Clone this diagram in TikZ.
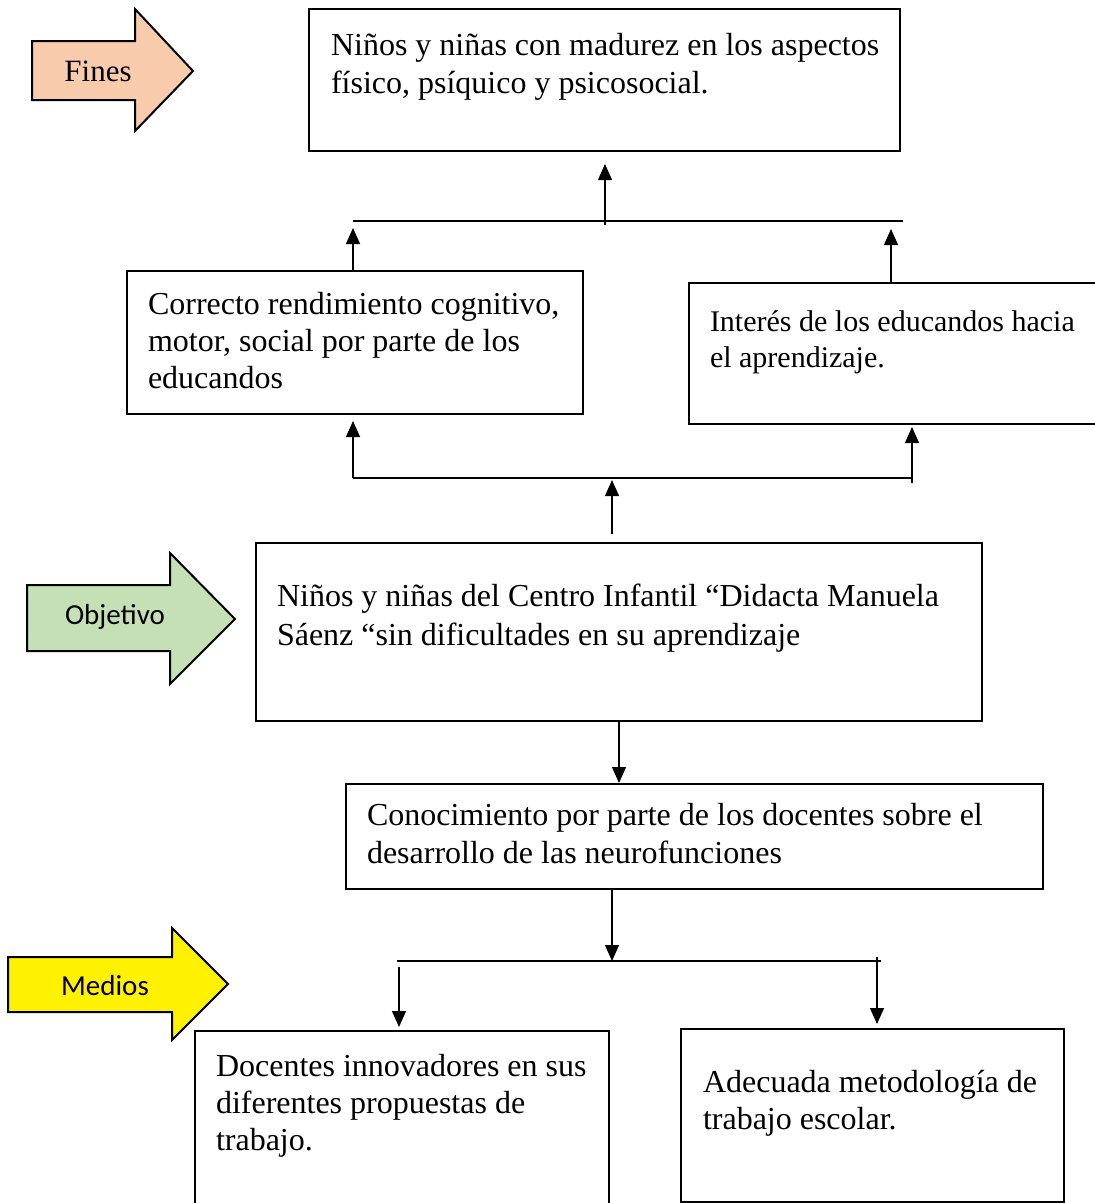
\documentclass[tikz,border=0pt]{standalone}
\usepackage{fontspec}
\setmainfont{Liberation Serif}
\newfontfamily\calibrifont{Carlito}
\usetikzlibrary{arrows.meta}
\usetikzlibrary{calc}

% text block inside a panel: width, height, left pad, first baseline, baselineskip, text
\newcommand{\paneltext}[6]{\parbox[t][#2pt][t]{#1pt}{\fontsize{32}{#5}\selectfont\leftskip=#3pt\parindent=0pt\rule{0pt}{#4pt}#6}}

\tikzset{
  panel/.style={draw=black, line width=2pt, anchor=north west, inner sep=0pt, align=left},
  link/.style={draw=black, line width=1.3pt},
  linkarrow/.style={link, -{Triangle[length=16pt,width=14pt]}},
  blockarrow/.style={draw=black, line width=2pt, line join=miter},
}

\begin{document}
\begin{tikzpicture}[x=1pt, y=-1pt]

\clip (0,0) rectangle (1095,1203);

% block arrows on the left
\draw[blockarrow, fill={rgb,255:red,248;green,203;blue,173}] (32,41) -- (135,41) -- (135,9) -- (193,71) -- (135,131) -- (135,100) -- (32,100) -- cycle;
\node (fines) at (98,71) {\fontsize{31}{36}\selectfont Fines};

\draw[blockarrow, fill={rgb,255:red,197;green,224;blue,180}] (27,585) -- (170,585) -- (170,553) -- (235,619) -- (170,684) -- (170,651) -- (27,651) -- cycle;
\node (objetivo) at (115,617) {\calibrifont\fontsize{29}{34}\selectfont Objetivo};

\draw[blockarrow, fill=yellow] (8,957) -- (172,957) -- (172,928) -- (228,984) -- (172,1040) -- (172,1012) -- (8,1012) -- cycle;
\node (medios) at (105,986) {\calibrifont\fontsize{29}{34}\selectfont Medios};

% panels
\node[panel] (finbox) at (308,8) {\paneltext{591}{142}{22}{46}{38}{Niños y niñas con madurez en los aspectos\\físico, psíquico y psicosocial.}};

\node[panel] (rendimiento) at (126,270) {\paneltext{456}{143}{21}{43}{37}{Correcto rendimiento cognitivo,\\motor, social por parte de los\\educandos}};

\node[panel] (interes) at (688,282) {\paneltext{430}{141}{21}{48}{36}{\fontsize{30}{36}\selectfont Interés de los educandos hacia\\el aprendizaje.}};

\node[panel] (objbox) at (255,542) {\paneltext{726}{178}{21}{63}{39}{Niños y niñas del Centro Infantil “Didacta Manuela\\Sáenz “sin dificultades en su aprendizaje}};

\node[panel] (conocimiento) at (345,783) {\paneltext{697}{105}{21}{41}{38}{Conocimiento por parte de los docentes sobre el\\desarrollo de las neurofunciones}};

\node[panel] (docentes) at (194,1030) {\paneltext{414}{190}{21}{45}{37}{Docentes innovadores en sus\\diferentes propuestas de\\trabajo.}};

\node[panel] (metodologia) at (680,1028) {\paneltext{383}{173}{22}{63}{37}{Adecuada metodología de\\trabajo escolar.}};

% junction points
\coordinate (topL) at (353,221);
\coordinate (topR) at (903,221);
\coordinate (topC) at (605,225);
\coordinate (topR2) at (891,221);
\coordinate (midL) at (353,478);
\coordinate (midR) at (912,478);
\coordinate (midC) at (612,478);
\coordinate (botL) at (397,961);
\coordinate (botR) at (881,961);
\coordinate (botC) at (612,961);
\coordinate (botL2) at (399,961);
\coordinate (botR2) at (877,961);

% connectors, upper half
\draw[link] (topL) -- (topR);
\draw[linkarrow, shorten >=12pt] (topC) -- (topC |- finbox.south);
\draw[linkarrow, shorten >=7pt] (topL |- rendimiento.north) -- (topL);
\draw[linkarrow, shorten >=8pt] (topR2 |- interes.north) -- (topR2);

\draw[link] (midL) -- (midR);
\draw[linkarrow, shorten >=6pt] (midL) -- (midL |- rendimiento.south);
\draw[linkarrow, shorten >=2pt] ([yshift=-5pt]midR) -- (midR |- interes.south);
\draw[linkarrow, shorten <=8pt, shorten >=2pt] (midC |- objbox.north) -- (midC);

% connectors, lower half
\draw[linkarrow] (objbox.south) -- (objbox.south |- conocimiento.north);
\draw[linkarrow] (botC |- conocimiento.south) -- (botC);
\draw[link] (botL) -- (botR);
\draw[linkarrow, shorten >=3pt] ([yshift=-6pt]botL2) -- (botL2 |- docentes.north);
\draw[linkarrow, shorten >=4pt] ([yshift=4pt]botR2) -- (botR2 |- metodologia.north);

\end{tikzpicture}
\end{document}
